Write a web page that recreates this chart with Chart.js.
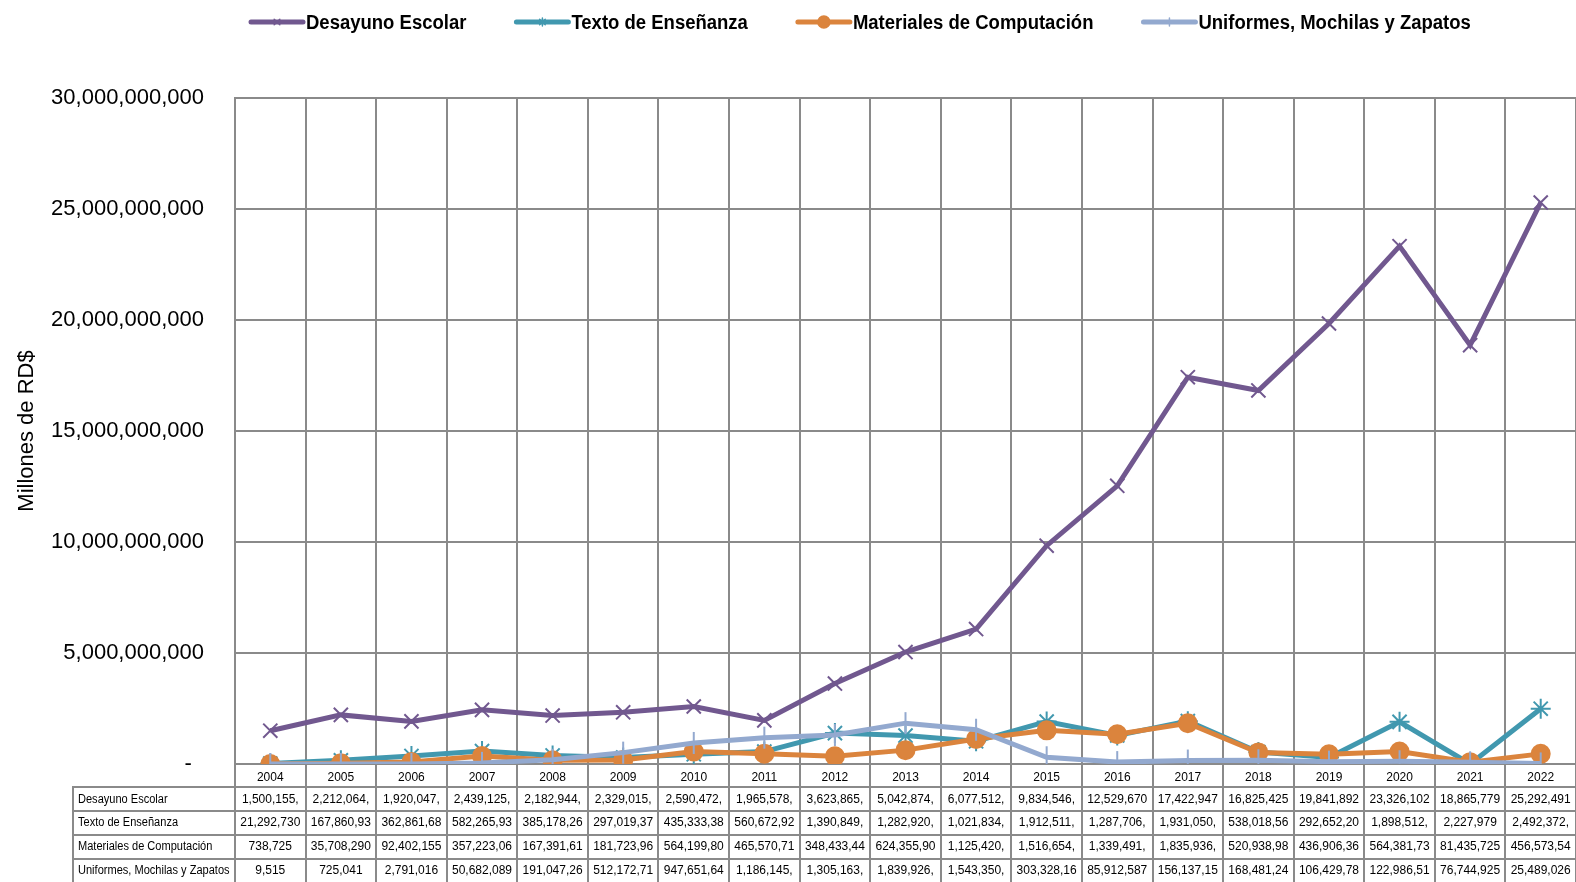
<!DOCTYPE html>
<html>
<head>
<meta charset="utf-8">
<script src="https://cdn.jsdelivr.net/npm/chart.js@4.4.1/dist/chart.umd.min.js"></script>
<style>
  body { margin: 0; background: #fff; }
  #wrap { position: relative; width: 1576px; height: 882px; overflow: hidden; }
  #tbl div { position: absolute; box-sizing: border-box; font: 12px 'Liberation Sans', Arial, sans-serif;
    color: #000; white-space: nowrap; overflow: hidden; text-align: center;
    border-right: 2px solid #8a8a8a; border-bottom: 2px solid #8a8a8a; }
  #tbl div.lab { text-align: left; padding-left: 4px; border-left: 2px solid #8a8a8a; }
  #tbl div.lab span { display: inline-block; transform: scaleX(0.92); transform-origin: left center; }
</style>
</head>
<body>
<div id="wrap">
  <canvas id="chart" width="1576" height="882"></canvas>
  <div id="tbl"></div>
</div>
<script>
const FONT = "'Liberation Sans', Arial, sans-serif";

const years = ['2004', '2005', '2006', '2007', '2008', '2009', '2010', '2011', '2012', '2013',
  '2014', '2015', '2016', '2017', '2018', '2019', '2020', '2021', '2022'];

const desayunoEscolar = [1500155000, 2212064000, 1920047000, 2439125000, 2182944000, 2329015000,
  2590472000, 1965578000, 3623865000, 5042874000, 6077512000, 9834546000, 12529670000,
  17422947000, 16825425000, 19841892000, 23326102000, 18865779000, 25292491000];

const textoEnsenanza = [21292730, 167860930, 362861680, 582265930, 385178260, 297019370,
  435333380, 560672920, 1390849000, 1282920000, 1021834000, 1912511000, 1287706000,
  1931050000, 538018560, 292652200, 1898512000, 2227979, 2492372000];

const materialesComputacion = [738725, 35708290, 92402155, 357223060, 167391610, 181723960,
  564199800, 465570710, 348433440, 624355900, 1125420000, 1516654000, 1339491000,
  1835936000, 520938980, 436906360, 564381730, 81435725, 456573540];

const uniformes = [9515, 725041, 2791016, 50682089, 191047260, 512172710, 947651640,
  1186145000, 1305163000, 1839926000, 1543350000, 303328160, 85912587, 156137150,
  168481240, 106429780, 122986510, 76744925, 25489026];

const yTicks = [0, 5000000000, 10000000000, 15000000000, 20000000000, 25000000000, 30000000000];

const nf = new Intl.NumberFormat('en-US');
const grid = '#8a8a8a';

const series = [
  { label: 'Desayuno Escolar', data: desayunoEscolar, color: '#71588F', style: 'crossRot', r: 10, lr: 4 },
  { label: 'Texto de Enseñanza', data: textoEnsenanza, color: '#4198AF', style: 'star', r: 10, lr: 4 },
  { label: 'Materiales de Computación', data: materialesComputacion, color: '#DB843D', style: 'circle', r: 9, lr: 6 },
  { label: 'Uniformes, Mochilas y Zapatos', data: uniformes, color: '#93A9CF', style: 'line', r: 11, lr: 4 }
];

// legend drawn like the Excel one: line sample with the marker in the middle
const topLegend = {
  id: 'topLegend',
  afterDraw(chart) {
    const ctx = chart.ctx;
    const sx = 0.925;
    let x = 249;
    const y = 22;
    ctx.save();
    ctx.font = 'bold 20px ' + FONT;
    ctx.textBaseline = 'middle';
    series.forEach((s) => {
      ctx.strokeStyle = s.color;
      ctx.fillStyle = s.color;
      ctx.lineWidth = 5;
      ctx.lineCap = 'round';
      ctx.beginPath();
      ctx.moveTo(x + 2, y);
      ctx.lineTo(x + 54, y);
      ctx.stroke();
      ctx.lineWidth = 1.5;
      Chart.helpers.drawPoint(ctx, {
        pointStyle: s.style, radius: s.lr, rotation: s.style === 'line' ? 90 : 0, borderWidth: 1.5
      }, x + 28, y);
      ctx.fillStyle = '#000';
      const tx = x + 57;
      ctx.save();
      ctx.translate(tx, y + 1);
      ctx.scale(sx, 1);
      ctx.fillText(s.label, 0, 0);
      ctx.restore();
      x = tx + ctx.measureText(s.label).width * sx + 48;
    });
    ctx.restore();
  }
};

const chart = new Chart(document.getElementById('chart'), {
  type: 'line',
  data: {
    labels: years,
    datasets: series.map((s, i) => ({
      label: s.label,
      data: s.data,
      borderColor: s.color,
      backgroundColor: s.color,
      borderWidth: 5,
      pointStyle: s.style,
      pointRadius: s.r,
      pointRotation: s.style === 'line' ? 90 : 0,
      pointBorderWidth: 2,
      pointBorderColor: s.color,
      pointBackgroundColor: s.color,
      tension: 0,
      order: 4 - i
    }))
  },
  options: {
    responsive: false,
    animation: false,
    layout: { autoPadding: false, padding: { left: 0, right: -3, top: 98, bottom: 95 } },
    plugins: { legend: { display: false }, tooltip: { enabled: false } },
    scales: {
      x: {
        offset: true,
        grid: { offset: true, color: grid, lineWidth: 2, tickLength: 23, drawTicks: true },
        border: { color: grid, width: 2 },
        ticks: { font: { family: FONT, size: 12 }, color: '#000', padding: -17, maxRotation: 0, autoSkip: false },
        afterFit(scale) { scale.height = 23; scale.paddingLeft = 0; scale.paddingRight = 0; }
      },
      y: {
        min: 0,
        max: 30000000000,
        afterBuildTicks(scale) { scale.ticks = yTicks.map((v) => ({ value: v })); },
        grid: { color: grid, lineWidth: 2, drawTicks: false },
        border: { color: grid, width: 2 },
        ticks: {
          font: { family: FONT, size: 22 }, color: '#000', padding: 31,
          callback: (v) => (v === 0 ? '-  ' : nf.format(v))
        },
        title: { display: true, text: 'Millones de RD$', font: { family: FONT, size: 22 }, color: '#000', padding: { top: 14 } },
        afterFit(scale) { scale.width = 235; }
      }
    }
  },
  plugins: [topLegend]
});

// data table under the plot, columns taken from the x scale
const xs = chart.scales.x;
const tbl = document.getElementById('tbl');
const step = xs.getPixelForValue(1) - xs.getPixelForValue(0);
const bounds = years.map((y, i) => xs.getPixelForValue(i) - step / 2);
bounds.push(bounds[bounds.length - 1] + step);
const rowTops = [786, 811, 835, 859, 883];

function cell(cls, text, left, right, r) {
  const c = document.createElement('div');
  if (cls) c.className = cls;
  const top = rowTops[r];
  const h = rowTops[r + 1] - top + 1;
  Object.assign(c.style, { left: left + 'px', top: top + 'px', width: (right - left) + 'px', height: h + 'px', lineHeight: (h - 2 - (r === 0 ? 2 : 0)) + 'px' });
  if (r === 0) c.style.borderTop = '2px solid ' + grid;
  if (cls === 'lab') {
    const sp = document.createElement('span');
    sp.textContent = text;
    c.appendChild(sp);
  } else {
    c.textContent = text;
  }
  tbl.appendChild(c);
}

series.forEach((s, r) => {
  cell('lab', s.label, 72, bounds[0] + 1, r);
  s.data.forEach((v, i) => cell('', nf.format(v).slice(0, 10), bounds[i] + 1, bounds[i + 1] + 1, r));
});
</script>
</body>
</html>
